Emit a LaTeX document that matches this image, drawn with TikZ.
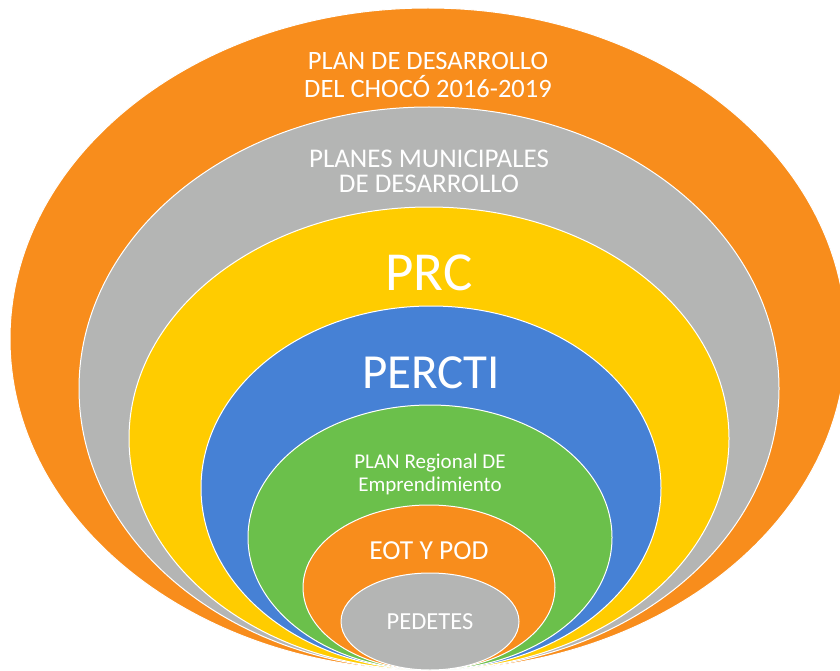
\documentclass[tikz,border=0pt]{standalone}
\usepackage{fontspec}
\setmainfont{Carlito}
\usetikzlibrary{
  shapes,
  positioning,
}
\definecolor{orng}{HTML}{F88D1C}
\definecolor{gry}{HTML}{B4B5B4}
\definecolor{yllw}{HTML}{FFCC00}
\definecolor{blu}{HTML}{4681D5}
\definecolor{grn}{HTML}{6BC04B}
\tikzset{
  ring/.style={
    ellipse,
    draw=white,
    line width=1pt,
    inner sep=0pt,
    outer sep=0pt
  },
  lbl/.style={
    text=white,
    align=center,
    inner sep=0pt
  }
}
\begin{document}
\begin{tikzpicture}[x=1pt,y=-1pt]
\clip (0,0) rectangle (840,671);
% Rings, largest first
\node[ring,fill=orng,minimum width=836pt,minimum height=662pt] (choco)  at (428,339)   {};
\node[ring,fill=gry, minimum width=700pt,minimum height=563pt] (munic)  at (429,388.5) {};
\node[ring,fill=yllw,minimum width=600pt,minimum height=463pt] (prc)    at (429,438.5) {};
\node[ring,fill=blu, minimum width=460pt,minimum height=364pt] (percti) at (431,488)   {};
\node[ring,fill=grn, minimum width=364pt,minimum height=265pt] (empr)   at (430,537.5) {};
\node[ring,fill=orng,minimum width=252pt,minimum height=165pt] (eot)    at (429,587.5) {};
\node[ring,fill=gry, minimum width=178pt,minimum height=97pt]  (pedetes) at (430,621.5) {};
% Labels
\node[lbl,font=\fontsize{26.5}{28}\selectfont] (tchoco)  at ([yshift=-67pt]choco.north)
  {PLAN DE DESARROLLO\\DEL CHOCÓ 2016-2019};
\node[lbl,font=\fontsize{27}{25}\selectfont] (tmunic)  at ([yshift=-64pt]munic.north)
  {PLANES MUNICIPALES\\DE DESARROLLO};
\node[lbl,font=\fontsize{55}{60}\selectfont] (tprc)    at ([yshift=-66pt]prc.north) {PRC};
\node[lbl,font=\fontsize{49}{55}\selectfont] (tpercti) at ([yshift=-67pt]percti.north) {PERCTI};
\node[lbl,font=\fontsize{21}{23}\selectfont] (tempr) at ([yshift=-69pt]empr.north)
  {PLAN Regional DE\\Emprendimiento};
\node[lbl,font=\fontsize{27.5}{30}\selectfont] (teot)    at ([yshift=-46pt]eot.north) {EOT Y POD};
\node[lbl,font=\fontsize{24.5}{26}\selectfont] (tpedetes) at (pedetes) {PEDETES};
\end{tikzpicture}
\end{document}
